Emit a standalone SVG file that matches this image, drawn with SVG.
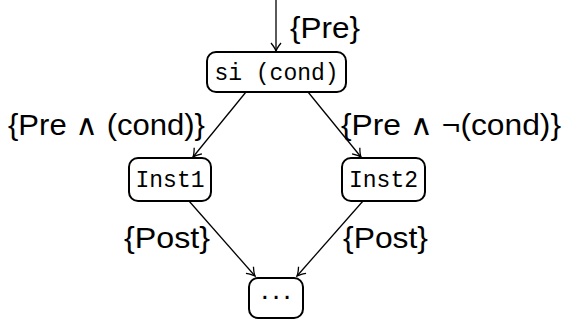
<svg xmlns="http://www.w3.org/2000/svg" width="566" height="320" viewBox="0 0 566 320">
<defs>
<style>
.box{fill:#fff;stroke:#000;stroke-width:2}
.mono{font-family:"Liberation Mono","DejaVu Sans Mono",monospace;font-size:23px;fill:#000}
.lbl{font-family:"Liberation Sans","DejaVu Sans",sans-serif;font-size:29px;fill:#000}
.edge{stroke:#000;stroke-width:1.3;fill:none;marker-end:url(#arr)}
</style>
<marker id="arr" viewBox="-10 -6 12 12" refX="0" refY="0" markerWidth="12" markerHeight="12" markerUnits="userSpaceOnUse" orient="auto">
<path d="M-8,-5 Q-3,-1 0,0 Q-3,1 -8,5" fill="none" stroke="#000" stroke-width="1.3"/>
</marker>
</defs>
<g id="connectors">
<line class="edge" x1="276" y1="0" x2="276" y2="51"/>
<line class="edge" x1="246" y1="92" x2="193" y2="157"/>
<line class="edge" x1="308" y1="92" x2="361" y2="157"/>
<line class="edge" x1="189" y1="201" x2="255" y2="276"/>
<line class="edge" x1="363" y1="201" x2="297" y2="276"/>
</g>
<g id="lbl-pre"><text class="lbl" x="290" y="38" textLength="70" lengthAdjust="spacingAndGlyphs">{Pre}</text></g>
<g id="lbl-true"><text class="lbl" x="8" y="135" textLength="197" lengthAdjust="spacingAndGlyphs">{Pre ∧ (cond)}</text></g>
<g id="lbl-false"><text class="lbl" x="341" y="135" textLength="220" lengthAdjust="spacingAndGlyphs">{Pre ∧ ¬(cond)}</text></g>
<g id="lbl-post1"><text class="lbl" x="124" y="248" textLength="86" lengthAdjust="spacingAndGlyphs">{Post}</text></g>
<g id="lbl-post2"><text class="lbl" x="343" y="248" textLength="85" lengthAdjust="spacingAndGlyphs">{Post}</text></g>
<g id="node-si">
<rect class="box" x="207" y="52" width="139" height="40" rx="9"/>
<text class="mono" x="276.5" y="80" text-anchor="middle">si (cond)</text>
</g>
<g id="node-inst1">
<rect class="box" x="129" y="158" width="82" height="43" rx="9"/>
<text class="mono" x="170" y="187" text-anchor="middle">Inst1</text>
</g>
<g id="node-inst2">
<rect class="box" x="342" y="158" width="83" height="43" rx="9"/>
<text class="mono" x="383.5" y="187" text-anchor="middle">Inst2</text>
</g>
<g id="node-end">
<rect class="box" x="249" y="278" width="54" height="40" rx="9"/>
<text class="lbl" x="276" y="305" text-anchor="middle" textLength="32" lengthAdjust="spacing">· · ·</text>
</g>
</svg>
